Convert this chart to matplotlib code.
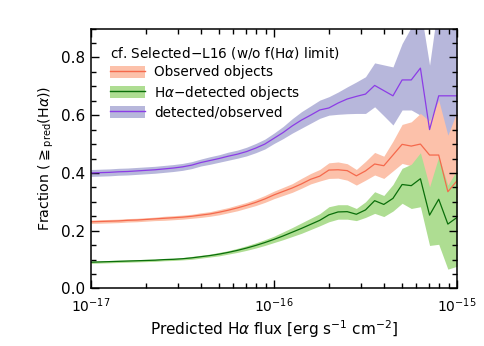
import numpy as np
import matplotlib
matplotlib.use("Agg")
import matplotlib.pyplot as plt
from matplotlib.patches import Patch
from matplotlib.lines import Line2D
from matplotlib.ticker import MultipleLocator, FixedLocator, NullFormatter

## Data (bins of 0.05 dex in predicted flux)
log_flux = [-17.00, -16.95, -16.90, -16.85, -16.80, -16.75, -16.70, -16.65, -16.60, -16.55,
            -16.50, -16.45, -16.40, -16.35, -16.30, -16.25, -16.20, -16.15, -16.10, -16.05,
            -16.00, -15.95, -15.90, -15.85, -15.80, -15.75, -15.70, -15.65, -15.60, -15.55,
            -15.50, -15.45, -15.40, -15.35, -15.30, -15.25, -15.20, -15.15, -15.10, -15.05,
            -15.00]

# observed objects
obs = [0.231, 0.232, 0.233, 0.234, 0.236, 0.237, 0.239, 0.241, 0.243, 0.245,
       0.247, 0.250, 0.254, 0.258, 0.264, 0.271, 0.279, 0.288, 0.298, 0.310,
       0.324, 0.336, 0.348, 0.362, 0.378, 0.389, 0.410, 0.411, 0.408, 0.390,
       0.407, 0.431, 0.425, 0.462, 0.499, 0.493, 0.500, 0.462, 0.462, 0.335,
       0.373]
obs_lo = [0.225, 0.226, 0.227, 0.228, 0.230, 0.231, 0.233, 0.235, 0.236, 0.238,
          0.240, 0.243, 0.246, 0.250, 0.255, 0.262, 0.269, 0.278, 0.287, 0.298,
          0.311, 0.322, 0.333, 0.347, 0.362, 0.372, 0.381, 0.382, 0.375, 0.358,
          0.375, 0.393, 0.381, 0.407, 0.433, 0.425, 0.445, 0.335, 0.393, 0.283,
          0.317]
obs_hi = [0.237, 0.238, 0.239, 0.240, 0.242, 0.243, 0.245, 0.247, 0.250, 0.252,
          0.254, 0.257, 0.262, 0.266, 0.273, 0.280, 0.289, 0.298, 0.309, 0.322,
          0.337, 0.350, 0.363, 0.381, 0.398, 0.412, 0.435, 0.438, 0.432, 0.412,
          0.440, 0.471, 0.458, 0.510, 0.568, 0.577, 0.606, 0.580, 0.652, 0.531,
          0.612]

# H-alpha detected objects
det = [0.091, 0.092, 0.093, 0.094, 0.095, 0.096, 0.097, 0.098, 0.100, 0.101,
       0.103, 0.106, 0.110, 0.114, 0.119, 0.125, 0.132, 0.140, 0.149, 0.159,
       0.170, 0.182, 0.195, 0.208, 0.222, 0.236, 0.255, 0.265, 0.266, 0.257,
       0.272, 0.304, 0.291, 0.312, 0.360, 0.356, 0.380, 0.254, 0.309, 0.223,
       0.246]
det_lo = [0.087, 0.088, 0.089, 0.090, 0.091, 0.092, 0.093, 0.094, 0.096, 0.097,
          0.099, 0.101, 0.105, 0.109, 0.113, 0.119, 0.125, 0.132, 0.140, 0.149,
          0.159, 0.169, 0.180, 0.191, 0.204, 0.217, 0.231, 0.240, 0.240, 0.235,
          0.246, 0.260, 0.249, 0.268, 0.295, 0.277, 0.283, 0.149, 0.153, 0.067,
          0.077]
det_hi = [0.095, 0.096, 0.097, 0.098, 0.099, 0.100, 0.101, 0.102, 0.104, 0.105,
          0.107, 0.111, 0.115, 0.119, 0.125, 0.131, 0.139, 0.148, 0.158, 0.169,
          0.181, 0.196, 0.211, 0.227, 0.243, 0.259, 0.283, 0.290, 0.290, 0.277,
          0.300, 0.335, 0.322, 0.360, 0.416, 0.430, 0.470, 0.352, 0.456, 0.358,
          0.410]

# detected / observed
ratio = [0.400, 0.401, 0.402, 0.404, 0.405, 0.407, 0.409, 0.411, 0.414, 0.417,
         0.421, 0.427, 0.436, 0.443, 0.450, 0.458, 0.465, 0.474, 0.486, 0.500,
         0.520, 0.540, 0.563, 0.583, 0.600, 0.618, 0.625, 0.642, 0.656, 0.665,
         0.673, 0.703, 0.685, 0.667, 0.722, 0.722, 0.763, 0.550, 0.667, 0.667,
         0.667]
ratio_lo = [0.388, 0.389, 0.390, 0.392, 0.393, 0.395, 0.397, 0.399, 0.402, 0.405,
            0.409, 0.415, 0.424, 0.430, 0.437, 0.444, 0.451, 0.459, 0.470, 0.483,
            0.502, 0.519, 0.538, 0.555, 0.572, 0.589, 0.600, 0.603, 0.605, 0.606,
            0.606, 0.629, 0.598, 0.566, 0.618, 0.618, 0.600, 0.450, 0.520, 0.525,
            0.590]
ratio_hi = [0.412, 0.413, 0.414, 0.416, 0.417, 0.419, 0.421, 0.423, 0.426, 0.429,
            0.433, 0.439, 0.448, 0.456, 0.463, 0.472, 0.479, 0.489, 0.502, 0.517,
            0.538, 0.561, 0.588, 0.612, 0.632, 0.652, 0.664, 0.680, 0.698, 0.715,
            0.733, 0.781, 0.774, 0.767, 0.848, 0.905, 0.970, 0.773, 1.000, 1.000,
            1.000]

x_ticks = [1e-17, 1e-16, 1e-15]
x_ticklabels = ["$10^{-17}$", "$10^{-16}$", "$10^{-15}$"]

## Colours
c_obs_band, c_obs_line = "#fcc1aa", "#f5694c"
c_det_band, c_det_line = "#aedd92", "#0a6e0a"
c_rat_band, c_rat_line = "#b7b7db", "#8c3ce6"

plt.rcParams["font.family"] = "DejaVu Sans"
plt.rcParams["font.size"] = 11
plt.rcParams["mathtext.fontset"] = "dejavusans"

x = 10.0**np.array(log_flux)

fig = plt.figure(figsize=(4.85, 3.46), dpi=100)
ax = fig.add_axes([0.1876, 0.1662, 0.7547, 0.7514])

ax.fill_between(x, ratio_lo, ratio_hi, color=c_rat_band, lw=0)
ax.fill_between(x, obs_lo, obs_hi, color=c_obs_band, lw=0)
ax.fill_between(x, det_lo, det_hi, color=c_det_band, lw=0)
ax.plot(x, obs, color=c_obs_line, lw=0.9)
ax.plot(x, det, color=c_det_line, lw=0.9)
ax.plot(x, ratio, color=c_rat_line, lw=0.9)

ax.set_xscale("log")
ax.set_xlim(1e-17, 1e-15)
ax.set_ylim(0.0, 0.9)
ax.set_xticks(x_ticks)
ax.set_xticklabels(x_ticklabels)
minor = [m * 10.0**e for e in (-17, -16) for m in range(2, 10)]
ax.xaxis.set_minor_locator(FixedLocator(minor))
ax.xaxis.set_minor_formatter(NullFormatter())
ax.yaxis.set_major_locator(MultipleLocator(0.2))
ax.yaxis.set_minor_locator(MultipleLocator(0.05))
ax.yaxis.set_major_formatter(matplotlib.ticker.FormatStrFormatter("%.1f"))
ax.tick_params(which="both", direction="in", top=True, right=True, width=1.0)
ax.tick_params(which="major", length=6)
ax.tick_params(which="minor", length=3.5)
ax.tick_params(axis="x", pad=6, labelsize=10)
ax.tick_params(axis="y", pad=4)
for s in ax.spines.values():
    s.set_linewidth(1.1)

ax.set_xlabel("Predicted H$\\alpha$ flux [erg s$^{-1}$ cm$^{-2}$]", labelpad=2)
ax.set_ylabel("Fraction ($\\geqq_{\\rm pred}$(H$\\alpha$))", labelpad=4, fontsize=10.2)

handles = [(Patch(color=c_obs_band, lw=0), Line2D([], [], color=c_obs_line, lw=1.0)),
           (Patch(color=c_det_band, lw=0), Line2D([], [], color=c_det_line, lw=1.0)),
           (Patch(color=c_rat_band, lw=0), Line2D([], [], color=c_rat_line, lw=1.0))]
labels = ["Observed objects", "H$\\alpha$$-$detected objects", "detected/observed"]
leg = ax.legend(handles, labels, title="cf. Selected$-$L16 (w/o f(H$\\alpha$) limit)",
                loc="upper left", bbox_to_anchor=(0.052, 0.935), frameon=False,
                borderpad=0, borderaxespad=0, handlelength=2.6, handleheight=1.0,
                handletextpad=0.65, labelspacing=0.3, alignment="left", fontsize=9.8,
                title_fontsize=9.8)

fig.savefig("out.png", dpi=100)
